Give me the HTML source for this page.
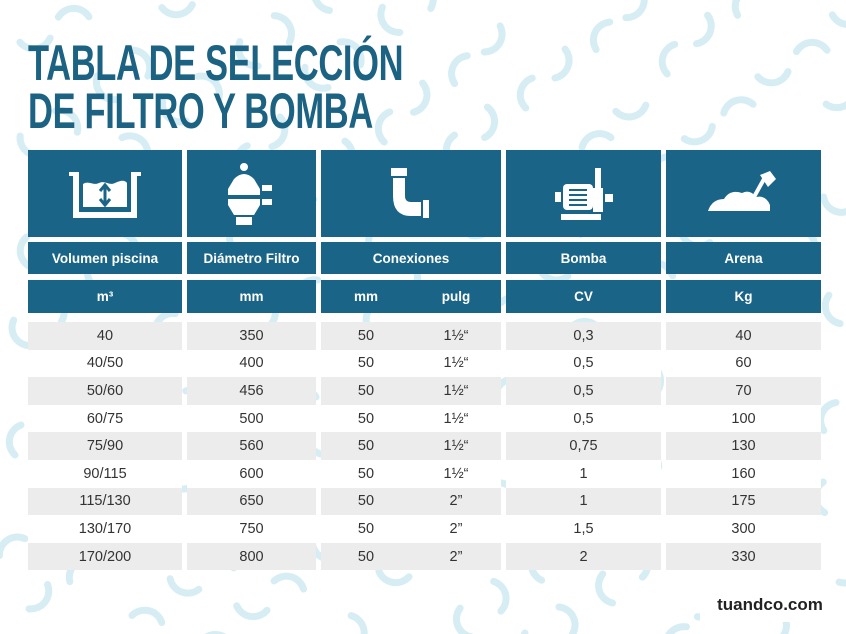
<!DOCTYPE html>
<html><head><meta charset="utf-8"><style>
body{margin:0;width:846px;height:634px;overflow:hidden;background:#fff;font-family:"Liberation Sans",sans-serif;position:relative}
#bg{position:absolute;left:0;top:0}
.t{position:absolute;left:28px;color:#1c6283;font-weight:bold;font-size:50px;line-height:50px;transform:scaleX(0.69);transform-origin:left top;white-space:nowrap;letter-spacing:-0.5px}
.c{position:absolute;box-sizing:border-box;display:flex;align-items:center;justify-content:center}
.h{background:#1a6587;color:#fff;font-weight:bold;font-size:13.5px}
.d{color:#333;font-size:14.5px}
.foot{position:absolute;left:700px;top:588px;width:140px;height:34px;background:#fff;font-weight:bold;font-size:17px;color:#222;display:flex;align-items:center;justify-content:center}
</style></head><body>
<svg id="bg" width="846" height="634"></svg>
<div class="t" style="top:38px">TABLA DE SELECCIÓN</div>
<div class="t" style="top:86px">DE FILTRO Y BOMBA</div>

<div class="c h" style="left:28px;top:150px;width:154px;height:87px">
<svg width="80" height="56" viewBox="0 0 80 56"><path d="M4 6h10v40h52V6h10v4h-4v42H8V10H4z M18 18c6-4 10 2 16-1s10 3 16 0 10-3 12 0v24H18z" fill="#fff"/><path d="M40 20v18M35 25l5-6 5 6M35 33l5 6 5-6" stroke="#1a6587" stroke-width="3" fill="none"/></svg></div>
<div class="c h" style="left:187px;top:150px;width:129px;height:87px">
<svg width="60" height="66" viewBox="0 0 60 66"><circle cx="22" cy="6" r="4" fill="#fff"/><path d="M12 18q10-10 20 0l6 10v6H6v-6z M6 38h32v6l-6 10H12L6 44z M14 56h16v8H14z" fill="#fff"/><rect x="40" y="24" width="10" height="6" fill="#fff"/><rect x="40" y="38" width="10" height="6" fill="#fff"/></svg></div>
<div class="c h" style="left:321px;top:150px;width:180px;height:87px">
<svg width="60" height="60" viewBox="0 0 60 60"><rect x="10" y="4" width="16" height="8" fill="#fff"/><path d="M12 14h12v18q0 6 6 6h10v14H30Q12 52 12 32z" fill="#fff"/><rect x="42" y="36" width="6" height="18" fill="#fff"/></svg></div>
<div class="c h" style="left:506px;top:150px;width:155px;height:87px">
<svg width="70" height="60" viewBox="0 0 70 60"><rect x="14" y="20" width="30" height="26" rx="4" fill="#fff"/><rect x="6" y="28" width="6" height="10" fill="#fff"/><rect x="44" y="24" width="10" height="24" fill="#fff"/><rect x="46" y="4" width="6" height="20" fill="#fff"/><rect x="56" y="30" width="8" height="8" fill="#fff"/><rect x="12" y="50" width="40" height="6" fill="#fff"/><path d="M20 26h18M20 31h18M20 36h18M20 41h18" stroke="#1a6587" stroke-width="2"/></svg></div>
<div class="c h" style="left:666px;top:150px;width:155px;height:87px">
<svg width="80" height="50" viewBox="0 0 80 50"><path d="M4 42q4-12 16-12q6-10 18-6q8-4 14 4q10-2 14 8v6z" fill="#fff"/><path d="M50 28l10-18" stroke="#fff" stroke-width="4"/><path d="M56 6l10-4 6 8-8 8z" fill="#fff"/></svg></div>
<div id="grid"></div>
<div class="foot">tuandco.com</div>
<script>
const bg=document.getElementById('bg');
let s='';
for(let i=0;i<160;i++){
  const x=(i*137)%880-10, y=(i*71)%660-10, a=(i*47)%360;
  s+=`<path d="M${x} ${y} a18 18 0 0 1 30 6" transform="rotate(${a} ${x+15} ${y})" stroke="#d6edf4" stroke-width="7" fill="none" stroke-linecap="round"/>`;
}
bg.innerHTML=s;
const cols=[[28,154],[187,129],[321,180],[506,155],[666,155]];
const heads=['Volumen piscina','Diámetro Filtro','Conexiones','Bomba','Arena'];
const units=['m³','mm','','CV','Kg'];
const vol=['40','40/50','50/60','60/75','75/90','90/115','115/130','130/170','170/200'];
const diam=['350','400','456','500','560','600','650','750','800'];
const mm=['50','50','50','50','50','50','50','50','50'];
const pulg=['1½“','1½“','1½“','1½“','1½“','1½“','2”','2”','2”'];
const cv=['0,3','0,5','0,5','0,5','0,75','1','1','1,5','2'];
const kg=['40','60','70','100','130','160','175','300','330'];
const g=document.getElementById('grid');
function cell(x,y,w,h,cls,txt,bgc){
  const d=document.createElement('div');
  d.className='c '+cls;
  d.style.cssText=`left:${x}px;top:${y}px;width:${w}px;height:${h}px;`+(bgc?`background:${bgc};`:'');
  d.textContent=txt;
  g.appendChild(d);return d;
}
cols.forEach((c,i)=>{
  const a=cell(c[0],242,c[1],32,'h',heads[i]);
  
  
  if(i===2){
    const b=cell(c[0],280,90,33,'h','mm');
    
    
    const b2=cell(c[0]+90,280,90,33,'h','pulg');
    
    
  }else{
    const b=cell(c[0],280,c[1],33,'h',units[i]);
    
    
  }
});
const rh=27.6;
for(let r=0;r<vol.length;r++){
  const y=322+r*rh, bgc=r%2===0?'#ececec':'#fff';
  const vals=[vol[r],diam[r],null,cv[r],kg[r]];
  cols.forEach((c,i)=>{
    if(i===2){
      const e=cell(c[0],y,c[1],rh,'d','',bgc);
      
      
      const m=cell(c[0],y,90,rh,'d',mm[r]);
      
      
      const p=cell(c[0]+90,y,90,rh,'d',pulg[r]);
      
      
    }else{
      const e=cell(c[0],y,c[1],rh,'d',vals[i],bgc);
      
      
    }
  });
}
</script>
</body></html>
